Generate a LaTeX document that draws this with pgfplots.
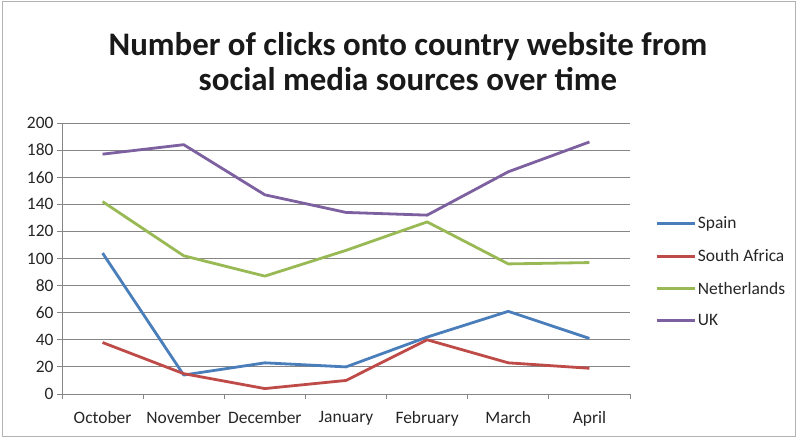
\documentclass[border=0pt]{standalone}
\usepackage{pgfplots}
\pgfplotsset{compat=1.18}
\usepackage{fontspec}
\setmainfont{Carlito}
\definecolor{cSpain}{RGB}{74,126,187}
\definecolor{cSA}{RGB}{190,75,72}
\definecolor{cNL}{RGB}{152,185,84}
\definecolor{cUK}{RGB}{125,96,160}
\definecolor{gridc}{RGB}{134,134,134}
\begin{document}
\begin{tikzpicture}
\fill[white] (0bp,0bp) rectangle (798bp,438bp);
\draw[gray!60, line width=0.8bp] (2.5bp,1.5bp) rectangle (795.5bp,436.5bp);
\node[align=center, font=\fontsize{33}{35}\selectfont\bfseries, text=black!90] at (408bp,376bp)
  {Number of clicks onto country website from\\social media sources over time};
\begin{axis}[
  at={(62bp,44bp)}, anchor=south west,
  scale only axis, width=568bp, height=271bp,
  xmin=-0.5, xmax=6.5, ymin=0, ymax=200,
  axis x line*=bottom, axis y line*=left,
  axis line style={gridc, line width=0.8bp},
  xtick={0,...,6},
  xticklabels={October,November,December,January,February,March,April},
  major x tick style={draw=none},
  minor xtick={-0.5,0.5,...,6.5},
  minor x tick style={gridc, line width=0.8bp},
  ytick={0,20,...,200},
  ymajorgrids, grid style={gridc, line width=0.8bp},
  y tick style={gridc, line width=0.8bp},
  tick align=outside,
  major tick length=5bp, minor tick length=5bp,
  /pgf/number format/assume math mode=true,
  tick label style={font=\fontsize{17.5}{19}\selectfont, text=black!85},
  xticklabel style={yshift=-9bp},
  legend style={draw=none, fill=none, at={(1.0,0.5)}, anchor=west, xshift=22bp, yshift=-13.5bp,
    font=\fontsize{17.5}{19}\selectfont, text=black!85, row sep=15bp,
    /tikz/every even column/.append style={column sep=0bp}},
  legend cell align=left,
  legend image code/.code={\draw[#1] (0bp,0bp) -- (38bp,0bp);},
  every axis plot/.append style={line width=2.8bp, line join=round},
]
\addplot[cSpain] coordinates {(0,104) (1,14) (2,23) (3,20) (4,42) (5,61) (6,41)};
\addlegendentry{Spain}
\addplot[cSA] coordinates {(0,38) (1,15) (2,4) (3,10) (4,40) (5,23) (6,19)};
\addlegendentry{South Africa}
\addplot[cNL] coordinates {(0,142) (1,102) (2,87) (3,106) (4,127) (5,96) (6,97)};
\addlegendentry{Netherlands}
\addplot[cUK] coordinates {(0,177) (1,184) (2,147) (3,134) (4,132) (5,164) (6,186)};
\addlegendentry{UK}
\end{axis}
\end{tikzpicture}
\end{document}
